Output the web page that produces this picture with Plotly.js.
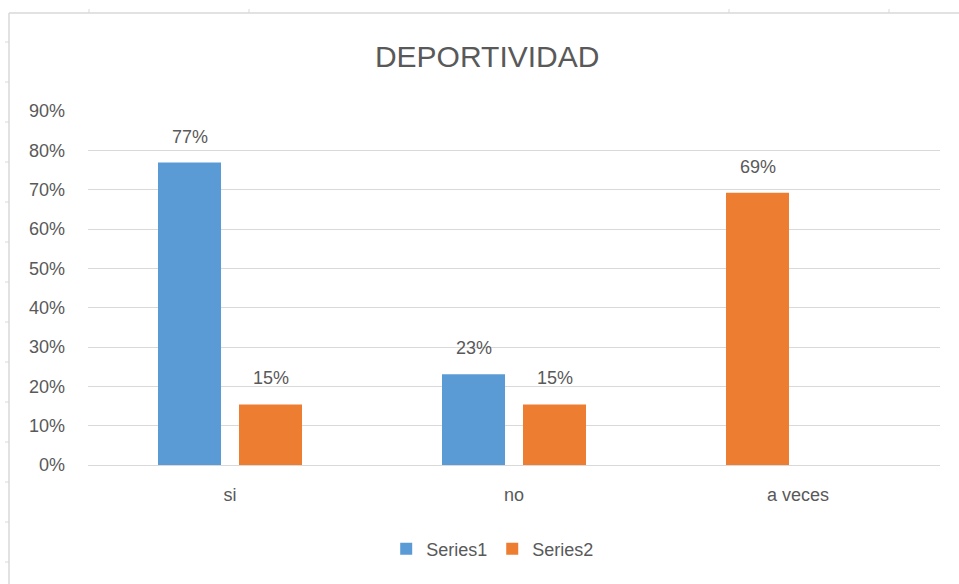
<!DOCTYPE html>
<html><head><meta charset="utf-8">
<script src="https://cdn.plot.ly/plotly-3.0.1.min.js"></script>
<style>html,body{margin:0;padding:0;background:#fff}#chart{width:959px;height:584px}</style>
</head><body><div id="chart"></div>
<script>
const categories = ["si", "no", "a veces"];
const series1 = [0.769, 0.231, null];
const series2 = [0.154, 0.154, 0.692];
const seriesNames = ["Series1", "Series2"];
const colors = ["#5B9BD5", "#ED7D31"];
const yTicks = [0, 0.1, 0.2, 0.3, 0.4, 0.5, 0.6, 0.7, 0.8, 0.9];

const L = 88, R = 940, T = 111, B = 465;
const catPx = (R - L) / categories.length;
const px = v => (v - L) / (R - L);
const py = v => (B - v) / (B - T);
const font = "Liberation Sans, Arial, sans-serif";
const gray = "#595959";

// bar geometry (in category units)
const barW = 63 / catPx;
const leftOff = -72 / catPx, rightOff = 9 / catPx;
const offsets = [
  [leftOff, leftOff, leftOff],
  [rightOff, rightOff, leftOff]
];

const mk = (vals, i) => ({
  type: "bar", x: categories, y: vals, name: seriesNames[i],
  marker: {color: colors[i]},
  width: categories.map(() => barW), offset: offsets[i],
  hoverinfo: "none"
});

const annotations = [];
[series1, series2].forEach((vals, i) => {
  vals.forEach((v, j) => {
    if (v === null) return;
    annotations.push({
      x: categories[j], y: v, xref: "x", yref: "y",
      text: Math.round(v * 100) + "%", showarrow: false,
      xshift: (offsets[i][j] + barW / 2) * catPx, yshift: 26,
      xanchor: "center", yanchor: "middle",
      font: {family: font, size: 18, color: gray}
    });
  });
});

const frameColor = "#d9d9d9";
const shapes = [
  {type: "line", xref: "paper", yref: "paper", x0: px(9), x1: px(959), y0: py(13), y1: py(13),
   line: {color: frameColor, width: 1.5}},
  {type: "line", xref: "paper", yref: "paper", x0: px(9), x1: px(9), y0: py(13), y1: py(584),
   line: {color: frameColor, width: 1.5}}
];
// sheet grid markers outside the chart frame
[89, 249, 729, 889].forEach(x => shapes.push({type: "line", xref: "paper", yref: "paper",
  x0: px(x), x1: px(x), y0: py(9), y1: py(13), line: {color: frameColor, width: 1}}));
for (let y = 42; y < 584; y += 40) shapes.push({type: "line", xref: "paper", yref: "paper",
  x0: px(5), x1: px(9), y0: py(y), y1: py(y), line: {color: frameColor, width: 1}});

const layout = {
  width: 959, height: 584,
  margin: {l: L, r: 959 - R, t: T, b: 584 - B},
  paper_bgcolor: "#fff", plot_bgcolor: "#fff",
  title: {text: "DEPORTIVIDAD", x: 0.508, xanchor: "center", y: 1 - 56/584, yanchor: "middle",
          font: {family: font, size: 30, color: gray}},
  barmode: "group",
  showlegend: true,
  xaxis: {type: "category", showgrid: false, zeroline: false, showline: false,
          ticks: "", tickfont: {family: font, size: 18, color: gray}, ticklabelstandoff: 17},
  yaxis: {range: [0, 0.9], tickvals: yTicks, tickformat: ".0%", showgrid: true,
          gridcolor: "#d9d9d9", gridwidth: 1, zeroline: true, zerolinecolor: "#d9d9d9", zerolinewidth: 1,
          showline: false, ticks: "", ticklabelstandoff: 22,
          tickfont: {family: font, size: 18, color: gray}},
  legend: {orientation: "h", x: 0.475, xanchor: "center", y: py(549), yanchor: "middle",
           font: {family: font, size: 18, color: gray}, itemwidth: 30, traceorder: "normal"},
  annotations: annotations,
  shapes: shapes
};

Plotly.newPlot("chart", [mk(series1, 0), mk(series2, 1)], layout, {displayModeBar: false, staticPlot: true});
</script></body></html>
